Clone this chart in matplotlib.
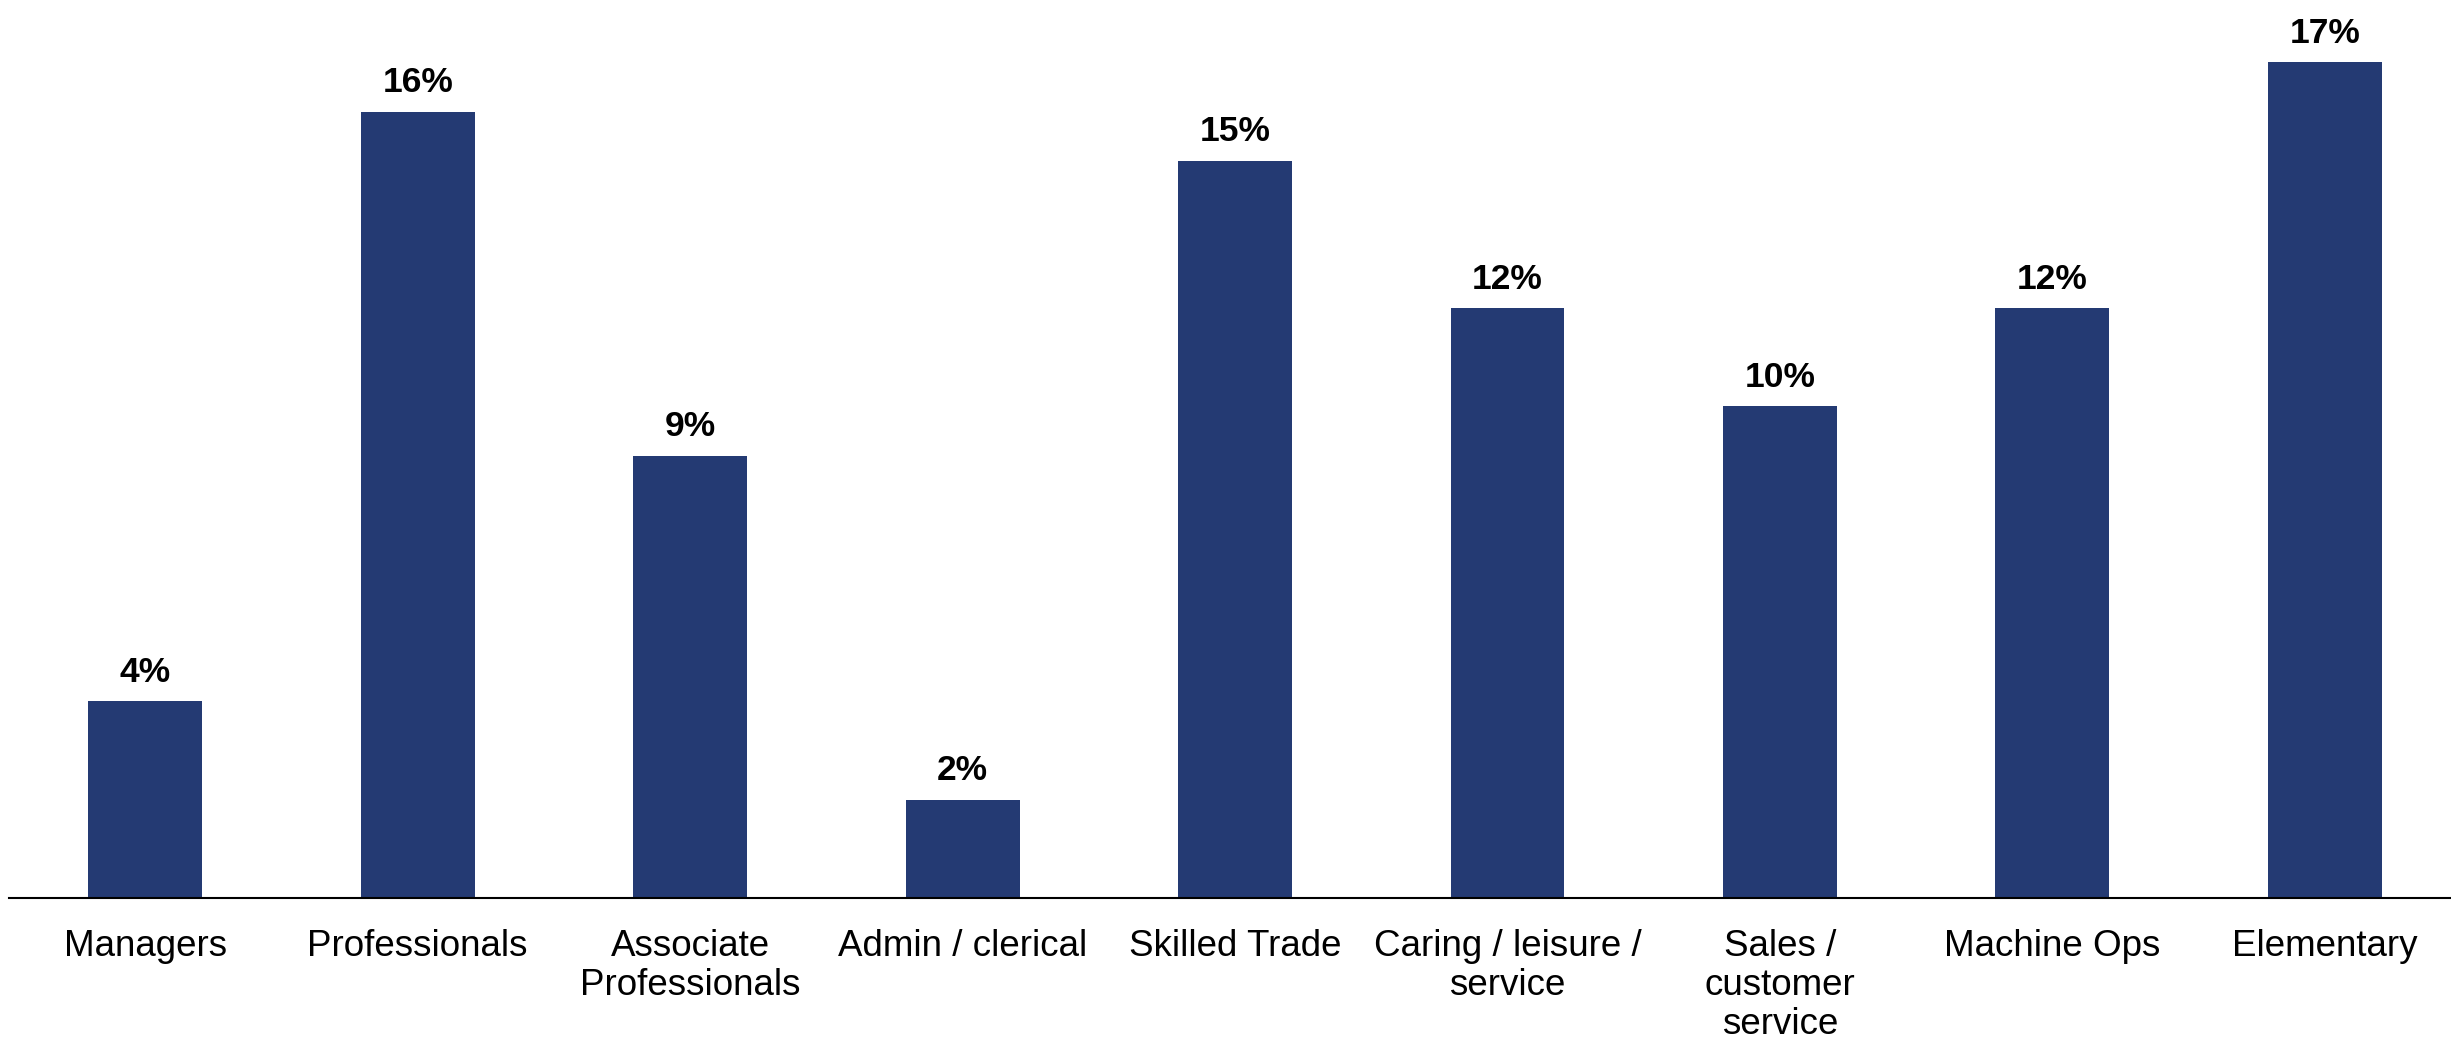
import numpy as np
import matplotlib
matplotlib.use("Agg")
from matplotlib import pyplot as plt

categories = ["Managers", "Professionals", "Associate\nProfessionals", "Admin / clerical",
              "Skilled Trade", "Caring / leisure /\nservice", "Sales /\ncustomer\nservice",
              "Machine Ops", "Elementary"]
values = [4, 16, 9, 2, 15, 12, 10, 12, 17]
labels = ["4%", "16%", "9%", "2%", "15%", "12%", "10%", "12%", "17%"]

plt.rcParams['font.family'] = ['Liberation Sans', 'DejaVu Sans']

fig = plt.figure(figsize=(24.51, 10.43), dpi=100)
ax = fig.add_axes([9/2451, 145/1043, 1 - 9/2451, 898/1043])

x = np.arange(len(categories))
bars = ax.bar(x, values, width=0.418, color="#243a73")

for b, lab in zip(bars, labels):
    ax.annotate(lab, (b.get_x() + b.get_width()/2, b.get_height()),
                xytext=(0, 9), textcoords="offset points",
                ha="center", va="bottom", fontsize=25.5, fontweight="bold")

ax.set_xlim(-0.5, 8.463)
ax.set_ylim(0, 18.27)
ax.set_xticks(x)
ax.set_xticklabels(categories, fontsize=26.5, linespacing=1.15)
ax.tick_params(axis="x", length=0, pad=22)
ax.set_yticks([])
for s in ["top", "right", "left"]:
    ax.spines[s].set_visible(False)
ax.spines["bottom"].set_linewidth(1.5)

fig.savefig("out.png", dpi=100)
